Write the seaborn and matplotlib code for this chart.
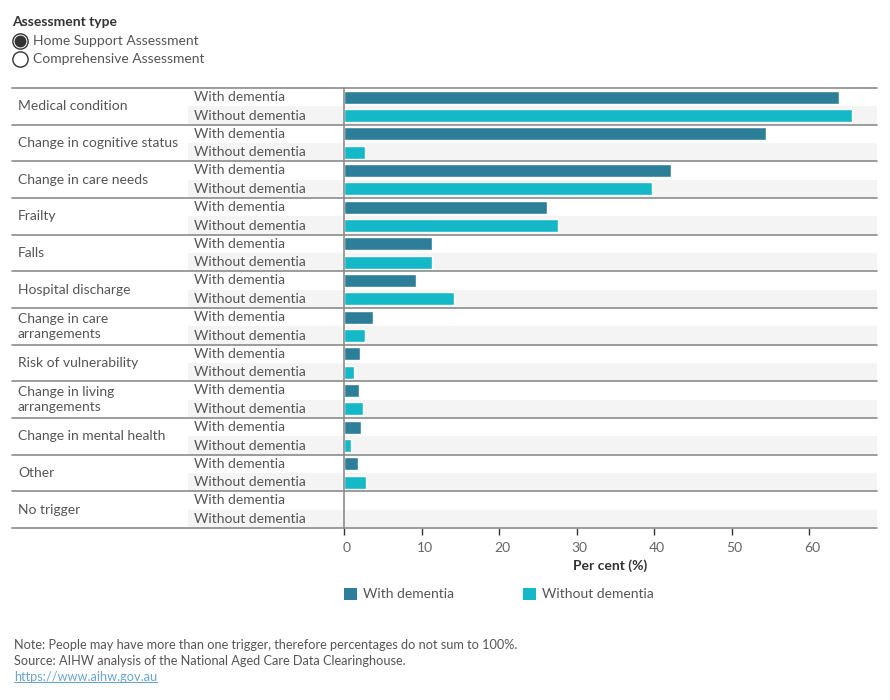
import matplotlib
matplotlib.use("Agg")
import matplotlib.pyplot as plt
import matplotlib.transforms as mtransforms
from matplotlib.patches import Rectangle, Patch
from matplotlib.lines import Line2D
import seaborn as sns
import pandas as pd

# ---------------- data ----------------
categories = ["Medical condition", "Change in cognitive status", "Change in care needs",
              "Frailty", "Falls", "Hospital discharge", "Change in care arrangements",
              "Risk of vulnerability", "Change in living arrangements",
              "Change in mental health", "Other", "No trigger"]
display_labels = ["Medical condition", "Change in cognitive status", "Change in care needs",
                  "Frailty", "Falls", "Hospital discharge", "Change in care\narrangements",
                  "Risk of vulnerability", "Change in living\narrangements",
                  "Change in mental health", "Other", "No trigger"]
groups = ["With dementia", "Without dementia"]
with_dementia = [63.9, 54.5, 42.2, 26.2, 11.3, 9.3, 3.7, 2.0, 1.9, 2.2, 1.8, 0.0]
without_dementia = [65.5, 2.7, 39.7, 27.6, 11.3, 14.2, 2.7, 1.3, 2.5, 0.9, 2.8, 0.0]
x_ticks = [0, 10, 20, 30, 40, 50, 60]
colors = ["#2D7E99", "#14B8C6"]

df = pd.DataFrame({
    "Trigger": categories * 2,
    "Group": [groups[0]] * len(categories) + [groups[1]] * len(categories),
    "Value": with_dementia + without_dementia,
})

# ---------------- figure ----------------
sns.set_theme(style="white")
FONT = ["Lato", "DejaVu Sans"]
plt.rcParams["font.family"] = FONT

W, H = 890, 700
fig = plt.figure(figsize=(W / 100, H / 100), dpi=100)
fig.patch.set_facecolor("white")

ax_l, ax_r, ax_t, ax_b = 344, 877, 88, 528
ax = fig.add_axes([ax_l / W, 1 - ax_b / H, (ax_r - ax_l) / W, (ax_b - ax_t) / H])

sns.barplot(data=df, y="Trigger", x="Value", hue="Group", order=categories,
            hue_order=groups, palette=colors, orient="h", width=1.0, gap=0.3,
            saturation=1, legend=False, ax=ax, zorder=3)

ax.set_xlim(0, (ax_r - ax_l) / 7.75)
ax.set_ylim(len(categories) - 0.5, -0.5)
ax.set_xticks(x_ticks)
ax.set_xticklabels([str(t) for t in x_ticks])
ax.tick_params(axis="x", which="both", direction="out", length=5, width=1,
               color="#333333", labelcolor="#666666", labelsize=10, pad=5, bottom=True)
for lbl in ax.get_xticklabels():
    lbl.set_transform(lbl.get_transform() + mtransforms.ScaledTranslation(3 / 100, 0, fig.dpi_scale_trans))
ax.set_yticks([])
ax.set_ylabel("")
ax.set_xlabel("Per cent (%)", fontsize=10, fontweight="bold", color="#333333", labelpad=4)
for s in ["top", "right", "bottom"]:
    ax.spines[s].set_visible(False)
ax.spines["left"].set_color("#8c8c8c")
ax.spines["left"].set_linewidth(1.2)
ax.spines["left"].set_zorder(4)

trans = mtransforms.blended_transform_factory(ax.transAxes, ax.transData)
x_band = (188 - ax_l) / (ax_r - ax_l)
x_sub = (194 - ax_l) / (ax_r - ax_l)
x_grp = (18 - ax_l) / (ax_r - ax_l)
x_line0 = (12 - ax_l) / (ax_r - ax_l)

for i, lab in enumerate(display_labels):
    # shaded band for the "Without dementia" sub-row
    ax.add_patch(Rectangle((x_band, i), 1 - x_band, 0.5, transform=trans,
                           facecolor="#f4f4f4", edgecolor="none", clip_on=False, zorder=0))
    ax.text(x_grp, i, lab, transform=trans, ha="left", va="center",
            fontsize=10, color="#555555", linespacing=1.35)
    ax.text(x_sub, i - 0.25, groups[0], transform=trans, ha="left", va="center",
            fontsize=10, color="#555555")
    ax.text(x_sub, i + 0.25, groups[1], transform=trans, ha="left", va="center",
            fontsize=10, color="#555555")

for i in range(len(categories) + 1):
    ax.add_line(Line2D([x_line0, 1.0], [i - 0.5, i - 0.5], transform=trans,
                       color="#8c8c8c", lw=1.2, clip_on=False, zorder=5))

# ---------------- header: radio-style filter ----------------
def fx(px):
    return px / W

def fy(py):
    return 1 - py / H

fig.text(fx(12), fy(22), "Assessment type", fontsize=10, fontweight="bold",
         color="#333333", ha="left", va="center")
fig.add_artist(Line2D([fx(20)], [fy(41)], marker="o", markersize=11,
                      markerfacecolor="white", markeredgecolor="#333333",
                      markeredgewidth=1, transform=fig.transFigure))
fig.add_artist(Line2D([fx(20)], [fy(41)], marker="o", markersize=7.5,
                      markerfacecolor="#333333", markeredgecolor="#333333",
                      transform=fig.transFigure))
fig.add_artist(Line2D([fx(20)], [fy(59)], marker="o", markersize=11,
                      markerfacecolor="white", markeredgecolor="#333333",
                      markeredgewidth=1, transform=fig.transFigure))
fig.text(fx(33), fy(41), "Home Support Assessment", fontsize=10, color="#555555",
         ha="left", va="center")
fig.text(fx(33), fy(59), "Comprehensive Assessment", fontsize=10, color="#555555",
         ha="left", va="center")

# ---------------- legend ----------------
handles = [Patch(facecolor=c, edgecolor="none") for c in colors]
fig.legend(handles, groups, loc="center left", bbox_to_anchor=(fx(331), fy(594)),
           ncol=2, frameon=False, fontsize=10, labelcolor="#555555",
           handlelength=0.95, handleheight=1.0, handletextpad=0.45,
           columnspacing=4.95)

# ---------------- footnotes ----------------
fig.text(fx(14), fy(645), "Note: People may have more than one trigger, therefore percentages do not sum to 100%.",
         fontsize=9.2, color="#555555", ha="left", va="center")
fig.text(fx(14), fy(661), "Source: AIHW analysis of the National Aged Care Data Clearinghouse.",
         fontsize=9.2, color="#555555", ha="left", va="center")
link = fig.text(fx(14), fy(677), "https://www.aihw.gov.au", fontsize=9.2, color="#6aa6cc",
                ha="left", va="center")
fig.canvas.draw()
bb = link.get_window_extent()
fig.add_artist(Line2D([bb.x0 / W, bb.x1 / W], [(bb.y0 + 1) / H, (bb.y0 + 1) / H],
                      color="#6aa6cc", lw=0.8, transform=fig.transFigure))

fig.savefig("out.png", dpi=100, facecolor="white")
